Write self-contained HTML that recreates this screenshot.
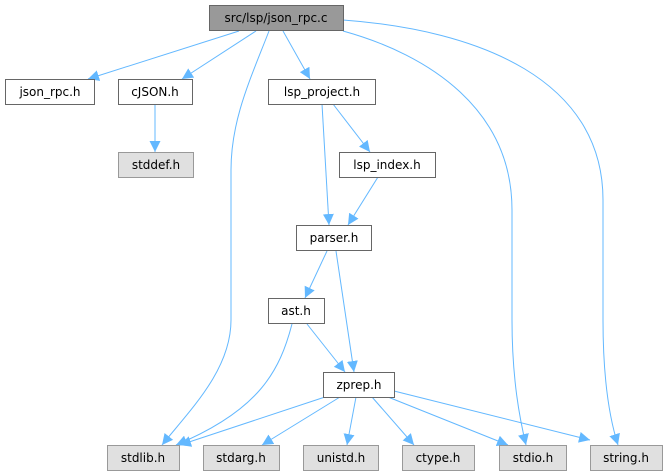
<!DOCTYPE html>
<html><head><meta charset="utf-8"><style>
html,body{margin:0;padding:0;background:#fff;}
svg{display:block}
text{font-family:"DejaVu Sans","Liberation Sans",sans-serif;font-size:12px;fill:#000;text-anchor:middle}
</style></head><body>
<svg width="663" height="476" viewBox="0 0 663 476" xmlns="http://www.w3.org/2000/svg">
<defs><marker id="a" viewBox="0 0 10 10" refX="10" refY="5" markerWidth="11" markerHeight="11" markerUnits="userSpaceOnUse" orient="auto"><path d="M0,0 L10,5 L0,10 z" fill="#63b8ff"/></marker></defs>
<g fill="none" stroke="#63b8ff" stroke-width="1" marker-end="url(#a)">
<path d="M239,31 L88,79"/>
<path d="M256,31 L182,79"/>
<path d="M269,31 C250,80 231,120 231,170 L231,320 C231,370 190,410 162,445"/>
<path d="M283,31 L310,79"/>
<path d="M343,31 C430,55 512,110 512,210 L512,320 C512,380 520,420 526,445"/>
<path d="M343,20 C480,30 603,80 603,200 L603,320 C603,380 610,420 618,445"/>
<path d="M155,104 L155,152"/>
<path d="M333,104 L370,152"/>
<path d="M322,104 L329,225"/>
<path d="M378,177 L348,225"/>
<path d="M327,251 L305,298"/>
<path d="M336,251 L354,372"/>
<path d="M307,324 L345,372"/>
<path d="M292,324 C280,370 260,410 176,445"/>
<path d="M325,397 L180,445"/>
<path d="M340,397 L262,445"/>
<path d="M356,397 L347,445"/>
<path d="M372,397 L414,445"/>
<path d="M388,397 L508,445"/>
<path d="M394,391 L590,440"/>
</g>
<g stroke-width="1">
<rect x="209.5" y="5.5" width="134" height="25" fill="#999" stroke="#666"/>
<rect x="5.5" y="79.5" width="89" height="25" fill="#fff" stroke="#666"/>
<rect x="118.5" y="79.5" width="74" height="25" fill="#fff" stroke="#666"/>
<rect x="268.5" y="79.5" width="107" height="25" fill="#fff" stroke="#666"/>
<rect x="118.5" y="152.5" width="75" height="25" fill="#e0e0e0" stroke="#999"/>
<rect x="339.5" y="152.5" width="96" height="25" fill="#fff" stroke="#666"/>
<rect x="296.5" y="225.5" width="75" height="25" fill="#fff" stroke="#666"/>
<rect x="268.5" y="298.5" width="56" height="25" fill="#fff" stroke="#666"/>
<rect x="323.5" y="372.5" width="71" height="25" fill="#fff" stroke="#666"/>
<rect x="107.5" y="445.5" width="72" height="25" fill="#e0e0e0" stroke="#999"/>
<rect x="203.5" y="445.5" width="76" height="25" fill="#e0e0e0" stroke="#999"/>
<rect x="303.5" y="445.5" width="75" height="25" fill="#e0e0e0" stroke="#999"/>
<rect x="402.5" y="445.5" width="72" height="25" fill="#e0e0e0" stroke="#999"/>
<rect x="499.5" y="445.5" width="67" height="25" fill="#e0e0e0" stroke="#999"/>
<rect x="590.5" y="445.5" width="72" height="25" fill="#e0e0e0" stroke="#999"/>
</g>
<text x="276" y="22">src/lsp/json_rpc.c</text>
<text x="50" y="96">json_rpc.h</text>
<text x="155" y="96">cJSON.h</text>
<text x="322" y="96">lsp_project.h</text>
<text x="156" y="169">stddef.h</text>
<text x="387" y="169">lsp_index.h</text>
<text x="334" y="242">parser.h</text>
<text x="296" y="315">ast.h</text>
<text x="359" y="389">zprep.h</text>
<text x="143" y="462">stdlib.h</text>
<text x="241" y="462">stdarg.h</text>
<text x="341" y="462">unistd.h</text>
<text x="438" y="462">ctype.h</text>
<text x="533" y="462">stdio.h</text>
<text x="626" y="462">string.h</text>
</svg>
</body></html>
